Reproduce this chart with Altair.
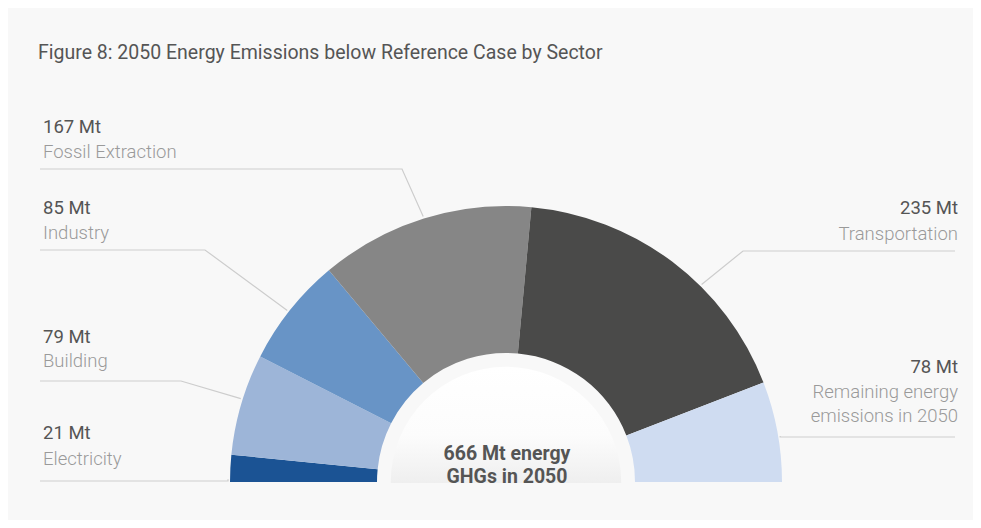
import math
import altair as alt
import pandas as pd

# ---------------- data ----------------
sectors = ["Electricity", "Building", "Industry", "Fossil Extraction",
           "Transportation", "Remaining"]
values = [21, 79, 85, 167, 235, 78]
value_labels = ["21 Mt", "79 Mt", "85 Mt", "167 Mt", "235 Mt", "78 Mt"]
name_lines = [["Electricity"], ["Building"], ["Industry"], ["Fossil Extraction"],
              ["Transportation"], ["Remaining energy\u00a0", "emissions in 2050"]]
colors = ["#1b5394", "#9db5d8", "#6894c6", "#868686", "#4a4a49", "#cfdcf1"]
title_text = "Figure 8: 2050 Energy Emissions below Reference Case by Sector"
center_lines = ["666 Mt energy", "GHGs in 2050"]

# ---------------- layout (pixels) ----------------
W, H = 965, 512
CX, CY, R_OUT, R_IN = 498, 474, 276, 129
FONT = "Roboto, sans-serif"
LEFT_X, RIGHT_X = 35, 950
LEFT_LINE_X, RIGHT_LINE_X = 32, 947
layout = {
    "Electricity":       dict(side="left",  vy=431, ny=[457],      ly=473, elbow=None, frac=0.1),
    "Building":          dict(side="left",  vy=335, ny=[359],      ly=373, elbow=173,  frac=0.55),
    "Industry":          dict(side="left",  vy=206, ny=[231],      ly=242, elbow=197,  frac=0.48),
    "Fossil Extraction": dict(side="left",  vy=125, ny=[150],      ly=161, elbow=394,  frac=0.5),
    "Transportation":    dict(side="right", vy=206, ny=[232],      ly=243, elbow=735,  frac=0.62),
    "Remaining":         dict(side="right", vy=365, ny=[390, 414], ly=429, elbow=None, frac=0.55),
}

total = sum(values)

arc_df = pd.DataFrame({"sector": sectors, "value": values, "idx": list(range(len(sectors)))})

line_rows = []
text_rows = []
cum = 0
for s, v, vl, nl in zip(sectors, values, value_labels, name_lines):
    L = layout[s]
    phi = math.pi * (cum + L["frac"] * v) / total  # 0 = left, pi/2 = top
    ax = CX - (R_OUT + 2) * math.cos(phi)
    ay = CY - (R_OUT + 2) * math.sin(phi)
    cum += v
    sx = LEFT_LINE_X if L["side"] == "left" else RIGHT_LINE_X
    pts = [(sx, L["ly"])]
    if L["elbow"] is not None:
        pts.append((L["elbow"], L["ly"]))
    else:
        pts.append((ax, L["ly"]))
    pts.append((ax, ay))
    for k, (px, py) in enumerate(pts):
        line_rows.append({"sector": s, "o": k, "px": px, "py": py})
    tx = LEFT_X if L["side"] == "left" else RIGHT_X
    text_rows.append({"txt": vl, "px": tx, "py": L["vy"], "kind": "value", "side": L["side"]})
    for nm, ny in zip(nl, L["ny"]):
        text_rows.append({"txt": nm, "px": tx, "py": ny, "kind": "name", "side": L["side"]})

line_df = pd.DataFrame(line_rows)
text_df = pd.DataFrame(text_rows)
center_df = pd.DataFrame({"txt": center_lines, "px": [CX + 1, CX + 1], "py": [452, 475]})
title_df = pd.DataFrame({"txt": [title_text], "px": [30], "py": [51]})

xs = alt.Scale(domain=[0, W], range=[0, W], nice=False, zero=False)
ys = alt.Scale(domain=[0, H], range=[0, H], nice=False, zero=False)
X = lambda f: alt.X(f, type="quantitative", scale=xs, axis=None)
Y = lambda f: alt.Y(f, type="quantitative", scale=ys, axis=None)

arcs = alt.Chart(arc_df).mark_arc(radius=R_OUT, radius2=R_IN).encode(
    theta=alt.Theta("value:Q", stack=True,
                    scale=alt.Scale(range=[-math.pi / 2, math.pi / 2])),
    order=alt.Order("idx:Q"),
    color=alt.Color("sector:N", scale=alt.Scale(domain=sectors, range=colors), legend=None),
    x=alt.value(CX), y=alt.value(CY),
)

grad = alt.LinearGradient(
    gradient="linear", x1=0, y1=0, x2=0, y2=1,
    stops=[alt.GradientStop(offset=0, color="#ffffff"),
           alt.GradientStop(offset=0.3, color="#fcfcfc"),
           alt.GradientStop(offset=0.5, color="#efefef"),
           alt.GradientStop(offset=1, color="#e8e8e8")],
)
inner = alt.Chart(pd.DataFrame({"a": [0]})).mark_point(
    shape="circle", filled=True, opacity=1, size=math.pi * (R_IN + 1) ** 2,
    fill=grad, strokeOpacity=0, strokeWidth=0,
).encode(x=alt.value(CX), y=alt.value(CY))

cover = alt.Chart(pd.DataFrame({"a": [0]})).mark_rect(color="#f8f8f8").encode(
    x=alt.value(0), x2=alt.value(W), y=alt.value(CY + 1), y2=alt.value(H))

lines = alt.Chart(line_df).mark_line(color="#cdcdcd", strokeWidth=1.2).encode(
    x=X("px"), y=Y("py"), detail="sector:N", order="o:Q")

def text_layer(kind, side, color, align, weight):
    return alt.Chart(text_df).transform_filter(
        (alt.datum.kind == kind) & (alt.datum.side == side)
    ).mark_text(align=align, baseline="alphabetic", font=FONT, fontSize=18.5,
                color=color, fontWeight=weight).encode(x=X("px"), y=Y("py"), text="txt:N")

texts = [
    text_layer("value", "left", "#555555", "left", 400),
    text_layer("name", "left", "#9a9a9a", "left", 300),
    text_layer("value", "right", "#555555", "right", 400),
    text_layer("name", "right", "#9a9a9a", "right", 300),
]

center = alt.Chart(center_df).mark_text(
    align="center", baseline="alphabetic", font=FONT, fontSize=19.5,
    fontWeight="bold", color="#555555"
).encode(x=X("px"), y=Y("py"), text="txt:N")

title = alt.Chart(title_df).mark_text(
    align="left", baseline="alphabetic", font=FONT, fontSize=19.5, color="#555555"
).encode(x=X("px"), y=Y("py"), text="txt:N")

chart = alt.layer(lines, arcs, inner, cover, center, title, *texts).properties(
    width=W, height=H, padding=0, background="#f8f8f8",
    autosize=alt.AutoSizeParams(type="none"),
).configure_view(stroke=None)

chart.save("out.html", embed_options={"renderer": "svg", "actions": False})
